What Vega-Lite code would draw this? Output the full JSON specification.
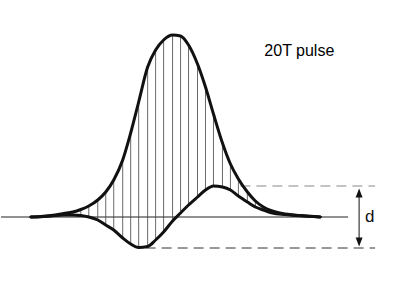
{
  "$schema": "https://vega.github.io/schema/vega-lite/v6.json",
  "width": 403,
  "height": 295,
  "autosize": {"type": "fit", "contains": "padding"},
  "padding": 0,
  "background": "white",
  "config": {"view": {"stroke": null}},
  "data": {"values": [
    {"x": 30, "pulse": 0, "diff": 0},
    {"x": 40, "pulse": 0.5, "diff": 0.3},
    {"x": 50, "pulse": 1.5, "diff": 1},
    {"x": 63, "pulse": 3.5, "diff": 2},
    {"x": 72, "pulse": 5, "diff": 2},
    {"x": 80, "pulse": 7.5, "diff": 1.5},
    {"x": 88, "pulse": 11, "diff": 0},
    {"x": 97, "pulse": 17, "diff": -3},
    {"x": 105, "pulse": 25, "diff": -8},
    {"x": 113, "pulse": 37, "diff": -13},
    {"x": 122, "pulse": 57, "diff": -21},
    {"x": 130, "pulse": 84, "diff": -27},
    {"x": 138, "pulse": 115, "diff": -30.5},
    {"x": 147, "pulse": 150, "diff": -29.5},
    {"x": 155, "pulse": 167, "diff": -23},
    {"x": 163, "pulse": 177, "diff": -15},
    {"x": 172, "pulse": 182, "diff": -4},
    {"x": 180, "pulse": 181, "diff": 4},
    {"x": 188, "pulse": 172, "diff": 12},
    {"x": 197, "pulse": 153, "diff": 20},
    {"x": 205, "pulse": 130, "diff": 27},
    {"x": 213, "pulse": 103, "diff": 31},
    {"x": 222, "pulse": 74, "diff": 30},
    {"x": 230, "pulse": 53, "diff": 27},
    {"x": 238, "pulse": 38, "diff": 21},
    {"x": 247, "pulse": 25, "diff": 15},
    {"x": 255, "pulse": 16, "diff": 10},
    {"x": 263, "pulse": 10, "diff": 7},
    {"x": 272, "pulse": 6, "diff": 4},
    {"x": 285, "pulse": 3, "diff": 2.5},
    {"x": 300, "pulse": 1.5, "diff": 1.2},
    {"x": 320, "pulse": 0, "diff": 0}
  ]},
  "encoding": {
    "x": {"field": "x", "type": "quantitative", "scale": {"domain": [0, 403], "nice": false, "zero": false}, "axis": null}
  },
  "layer": [
    {
      "data": {"values": [{"x": 0, "x2": 348, "y": 0}]},
      "mark": {"type": "rule", "color": "#222", "strokeWidth": 1},
      "encoding": {
        "x2": {"field": "x2"},
        "y": {"field": "y", "type": "quantitative", "scale": {"domain": [-78, 217], "nice": false, "zero": false}, "axis": null}
      }
    },
    {
      "data": {"values": [{"x": 240, "x2": 375, "y": 31}]},
      "mark": {"type": "rule", "color": "#888", "strokeWidth": 1, "strokeDash": [10, 6]},
      "encoding": {
        "x2": {"field": "x2"},
        "y": {"field": "y", "type": "quantitative", "scale": {"domain": [-78, 217], "nice": false, "zero": false}, "axis": null}
      }
    },
    {
      "data": {"values": [{"x": 145, "x2": 375, "y": -31}]},
      "mark": {"type": "rule", "color": "#333", "strokeWidth": 1, "strokeDash": [10, 6]},
      "encoding": {
        "x2": {"field": "x2"},
        "y": {"field": "y", "type": "quantitative", "scale": {"domain": [-78, 217], "nice": false, "zero": false}, "axis": null}
      }
    },
    {
      "transform": [{"filter": "datum.x >= 60 && datum.x <= 275"}],
      "mark": {"type": "rule", "color": "#444", "strokeWidth": 0.8},
      "encoding": {
        "y": {"field": "pulse", "type": "quantitative", "scale": {"domain": [-78, 217], "nice": false, "zero": false}, "axis": null},
        "y2": {"field": "diff"}
      }
    },
    {
      "mark": {"type": "line", "color": "#111", "strokeWidth": 3, "interpolate": "monotone", "strokeCap": "round"},
      "encoding": {
        "y": {"field": "pulse", "type": "quantitative", "scale": {"domain": [-78, 217], "nice": false, "zero": false}, "axis": null}
      }
    },
    {
      "mark": {"type": "line", "color": "#111", "strokeWidth": 3, "interpolate": "monotone", "strokeCap": "round"},
      "encoding": {
        "y": {"field": "diff", "type": "quantitative", "scale": {"domain": [-78, 217], "nice": false, "zero": false}, "axis": null}
      }
    },
    {
      "data": {"values": [{"x": 359, "y": 24, "y2": -25}]},
      "mark": {"type": "rule", "color": "#111", "strokeWidth": 1},
      "encoding": {
        "y": {"field": "y", "type": "quantitative", "scale": {"domain": [-78, 217], "nice": false, "zero": false}, "axis": null},
        "y2": {"field": "y2"}
      }
    },
    {
      "data": {"values": [{"x": 359, "y": 24}]},
      "mark": {"type": "point", "shape": "M0,-1L0.75,1L-0.75,1Z", "size": 85, "filled": true, "color": "#111", "opacity": 1},
      "encoding": {
        "y": {"field": "y", "type": "quantitative", "scale": {"domain": [-78, 217], "nice": false, "zero": false}, "axis": null}
      }
    },
    {
      "data": {"values": [{"x": 359, "y": -25}]},
      "mark": {"type": "point", "shape": "M0,1L0.75,-1L-0.75,-1Z", "size": 85, "filled": true, "color": "#111", "opacity": 1},
      "encoding": {
        "y": {"field": "y", "type": "quantitative", "scale": {"domain": [-78, 217], "nice": false, "zero": false}, "axis": null}
      }
    },
    {
      "data": {"values": [{"x": 264, "y": 161, "label": "20T pulse"}]},
      "mark": {"type": "text", "align": "left", "baseline": "alphabetic", "font": "Liberation Sans", "fontSize": 16, "color": "#000"},
      "encoding": {
        "y": {"field": "y", "type": "quantitative", "scale": {"domain": [-78, 217], "nice": false, "zero": false}, "axis": null},
        "text": {"field": "label"}
      }
    },
    {
      "data": {"values": [{"x": 365, "y": -5, "label": "d"}]},
      "mark": {"type": "text", "align": "left", "baseline": "alphabetic", "font": "Liberation Sans", "fontSize": 17, "color": "#111"},
      "encoding": {
        "y": {"field": "y", "type": "quantitative", "scale": {"domain": [-78, 217], "nice": false, "zero": false}, "axis": null},
        "text": {"field": "label"}
      }
    }
  ]
}
